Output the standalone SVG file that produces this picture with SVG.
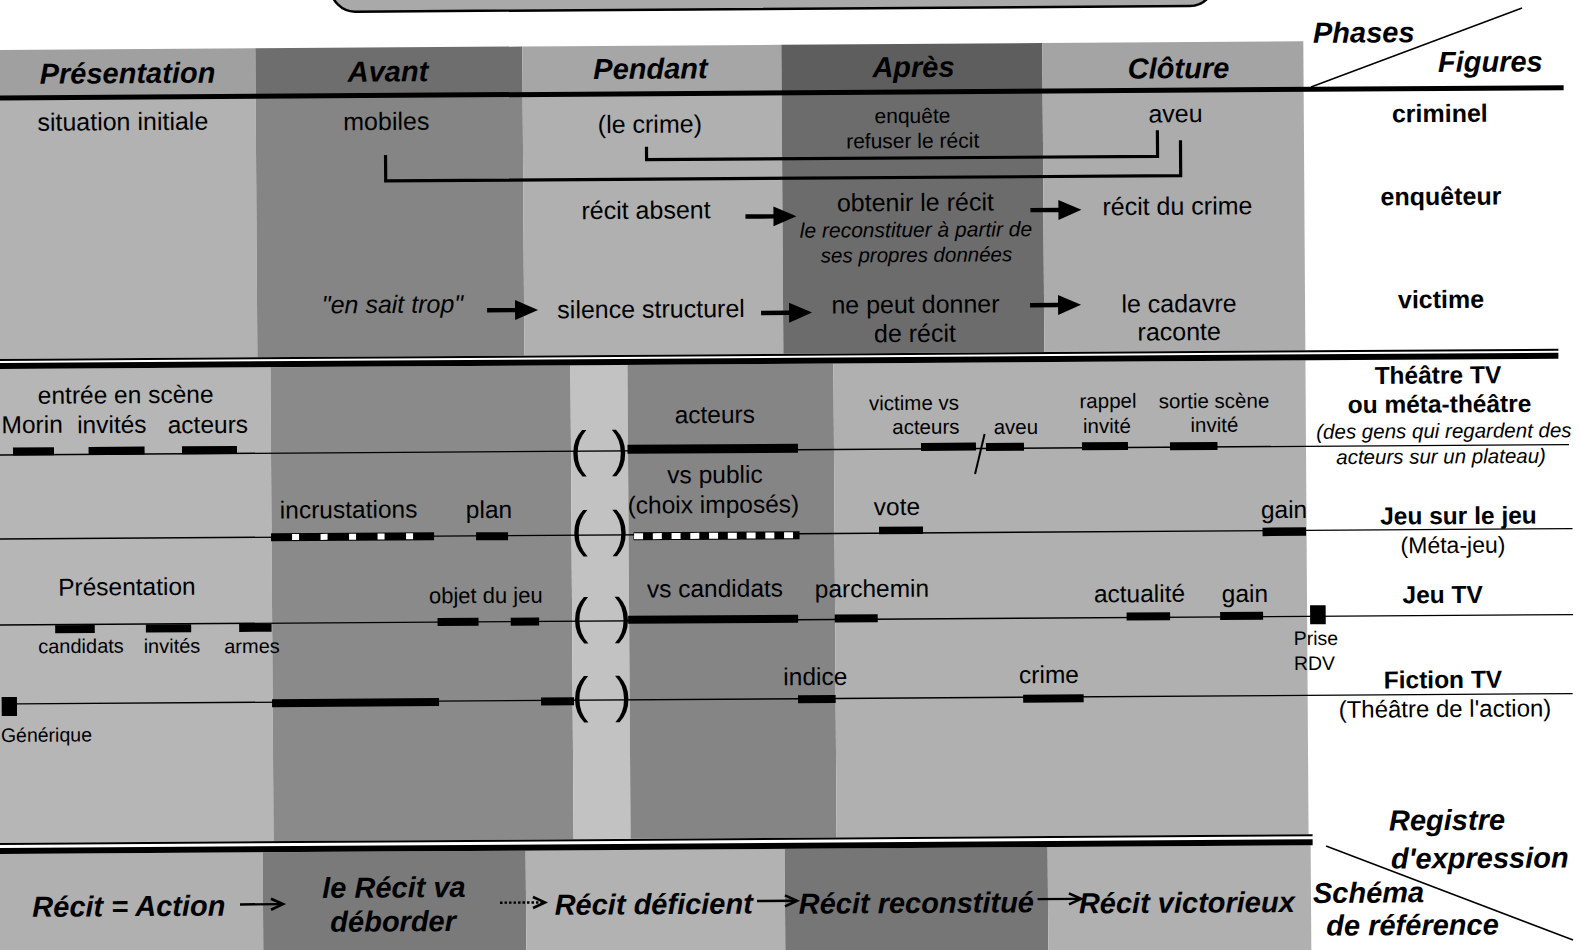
<svg xmlns="http://www.w3.org/2000/svg" width="1580" height="950" viewBox="0 0 1580 950">
<defs>
<style>
text{font-family:"Liberation Sans",Arial,Helvetica,sans-serif;fill:#000;text-anchor:middle}
.hd{font-size:29px;font-weight:bold;font-style:italic}
.st{text-anchor:start}
.n{font-size:25px}
.s{font-size:21px}
.s2{font-size:20.5px}
.it{font-style:italic}
.fg{font-size:25px;font-weight:bold}
.m{font-size:24.5px}
.ms{font-size:20.5px}
.sm{font-size:20px}
.xs{font-size:19.5px}
.rb{font-size:24.5px;font-weight:bold}
.pr{font-size:50px}
.bar{fill:#000}
.wq{fill:#fff}
.tl{stroke:#000;stroke-width:1.4;fill:none}
.br{stroke:#000;stroke-width:3.2;fill:none}
.dg{stroke:#000;stroke-width:1.5;fill:none}
.sa{stroke:#000;stroke-width:2.4;fill:none}
.ah{stroke:#000;stroke-width:2.6;fill:none;stroke-linejoin:miter}
</style>
<path id="arr" d="M0,-2.2H28V-10L51,0L28,10V2.2H0Z" fill="#000"/>
</defs>
<rect x="0" y="0" width="1580" height="950" fill="#fff"/>
<g transform="rotate(-0.38)">
<g id="backgrounds">
<rect x="331" y="-40" width="883" height="54" rx="24" fill="#a9a9a9" stroke="#000" stroke-width="2.5"/>
<rect x="-20" y="50" width="275" height="48" fill="#a0a0a0"/>
<rect x="255" y="50" width="267" height="48" fill="#6e6e6e"/>
<rect x="522" y="50" width="259" height="48" fill="#a6a6a6"/>
<rect x="781" y="50" width="261" height="48" fill="#5e5e5e"/>
<rect x="1042" y="50" width="261" height="48" fill="#a4a4a4"/>
<rect x="-20" y="98" width="275" height="261" fill="#b2b2b2"/>
<rect x="255" y="98" width="267" height="261" fill="#858585"/>
<rect x="522" y="98" width="259" height="261" fill="#b0b0b0"/>
<rect x="781" y="98" width="261" height="261" fill="#6c6c6c"/>
<rect x="1042" y="98" width="261" height="261" fill="#acacac"/>
<rect x="-20" y="369" width="288" height="474" fill="#b6b6b6"/>
<rect x="268" y="369" width="300" height="474" fill="#8a8a8a"/>
<rect x="568" y="369" width="57" height="474" fill="#c2c2c2"/>
<rect x="625" y="369" width="206" height="474" fill="#858585"/>
<rect x="831" y="369" width="472" height="474" fill="#b0b0b0"/>
<rect x="-20" y="854" width="277" height="120" fill="#b0b0b0"/>
<rect x="257" y="854" width="263" height="120" fill="#7a7a7a"/>
<rect x="520" y="854" width="259" height="120" fill="#b2b2b2"/>
<rect x="779" y="854" width="263" height="120" fill="#767676"/>
<rect x="1042" y="854" width="263" height="120" fill="#b0b0b0"/>
<rect x="-20" y="95.5" width="1583" height="5" fill="#000"/>
<rect x="-20" y="359" width="1576" height="2" fill="#000"/>
<rect x="-20" y="363" width="1576" height="6" fill="#000"/>
<rect x="-20" y="843" width="1327" height="2" fill="#000"/>
<rect x="-20" y="848" width="1327" height="6" fill="#000"/>
<line class="dg" x1="1310.4" y1="95.7" x2="1522" y2="18.1"/>
<line class="dg" x1="1320.4" y1="854.8" x2="1566.8" y2="950.4"/>
</g>
<g id="timelines">
<line class="tl" x1="-20" y1="455" x2="1566" y2="455"/>
<line class="tl" x1="-20" y1="539" x2="1569" y2="539"/>
<line class="tl" x1="-20" y1="625" x2="1569" y2="625"/>
<line class="tl" x1="12" y1="704" x2="1568" y2="704"/>
</g>
<g id="connectors">
<path class="br" d="M645.5,151V164H1156.5V138"/>
<path class="br" d="M384.5,157.5V183.5H1179.5V148"/>
<use href="#arr" x="744" y="221.5"/>
<use href="#arr" x="1029" y="217"/>
<use href="#arr" x="485" y="313.5"/>
<use href="#arr" x="759" y="318"/>
<use href="#arr" x="1028" y="312"/>
<line class="sa" x1="234" y1="906" x2="274" y2="906"/>
<path class="ah" d="M265,900.5L277,906L265,911.5"/>
<line class="sa" x1="494" y1="906" x2="536" y2="906" stroke-dasharray="2.5 2"/>
<path class="ah" d="M527,900.5L539,906L527,911.5"/>
<line class="sa" x1="751" y1="906" x2="788" y2="906"/>
<path class="ah" d="M779,900.5L791,906L779,911.5"/>
<line class="sa" x1="1031.6" y1="906" x2="1072" y2="906"/>
<path class="ah" d="M1063,900.5L1075,906L1063,911.5"/>
</g>
<g id="header">
<text class="hd" x="127" y="84">Présentation</text>
<text class="hd" x="387.5" y="84">Avant</text>
<text class="hd" x="650" y="83">Pendant</text>
<text class="hd" x="913" y="83">Après</text>
<text class="hd" x="1178" y="86">Clôture</text>
<text class="hd st" x="1312.7" y="51.5">Phases</text>
<text class="hd st" x="1437.5" y="81.5">Figures</text>
</g>
<g id="fig-criminel">
<text class="n" x="122" y="131">situation initiale</text>
<text class="n" x="385.5" y="132.5">mobiles</text>
<text class="n" x="649" y="137">(le crime)</text>
<text class="s" x="911.7" y="129">enquête</text>
<text class="s" x="911.7" y="154">refuser le récit</text>
<text class="n" x="1174.7" y="130">aveu</text>
<text class="fg" x="1439" y="131.5">criminel</text>
</g>
<g id="fig-enqueteur">
<text class="n" x="644.6" y="223">récit absent</text>
<text class="n" x="914" y="217">obtenir le récit</text>
<text class="s it" x="914.4" y="243">le reconstituer à partir de</text>
<text class="s2 it" x="914.8" y="268">ses propres données</text>
<text class="n" x="1176" y="222.5">récit du crime</text>
<text class="fg" x="1439.6" y="214.5">enquêteur</text>
</g>
<g id="fig-victime">
<text class="n it" x="390.4" y="315.5">"en sait trop"</text>
<text class="n" x="649" y="322">silence structurel</text>
<text class="n" x="913.4" y="319">ne peut donner</text>
<text class="n" x="912.7" y="348">de récit</text>
<text class="n" x="1177" y="320">le cadavre</text>
<text class="n" x="1177" y="348">raconte</text>
<text class="fg" x="1439" y="317.5">victime</text>
</g>
<g id="parens">
<text class="pr" x="575.5" y="470">(</text><text class="pr" x="617" y="470">)</text>
<text class="pr" x="576" y="550">(</text><text class="pr" x="617" y="550">)</text>
<text class="pr" x="576" y="637">(</text><text class="pr" x="618.5" y="637">)</text>
<text class="pr" x="575.5" y="716">(</text><text class="pr" x="618.5" y="716">)</text>
</g>
<g id="reg-theatre">
<text class="m" x="123" y="404">entrée en scène</text>
<text class="m" x="29.3" y="433.2">Morin</text>
<text class="m" x="109" y="433.7">invités</text>
<text class="m" x="205" y="434.4">acteurs</text>
<rect class="bar" x="10" y="447.5" width="41" height="8"/>
<rect class="bar" x="85.6" y="447.5" width="56" height="8"/>
<rect class="bar" x="179" y="447.5" width="55" height="8"/>
<text class="m" x="712" y="427.7">acteurs</text>
<rect class="bar" x="624.5" y="449" width="170.5" height="9"/>
<text class="ms" x="911.3" y="416">victime vs</text>
<text class="ms" x="923" y="440">acteurs</text>
<rect class="bar" x="918" y="449" width="55" height="8"/>
<line x1="981.7" y1="440.5" x2="971.9" y2="480.5" stroke="#000" stroke-width="2"/>
<text class="ms" x="1013" y="440.7">aveu</text>
<rect class="bar" x="983" y="449.5" width="38" height="8"/>
<text class="ms" x="1105.3" y="415.3">rappel</text>
<text class="ms" x="1104" y="440.3">invité</text>
<rect class="bar" x="1079" y="449.5" width="46" height="8"/>
<text class="ms" x="1211.3" y="416">sortie scène</text>
<text class="ms" x="1211.6" y="440">invité</text>
<rect class="bar" x="1167" y="450" width="47.5" height="8"/>
<text class="rb" x="1435.4" y="393">Théâtre TV</text>
<text class="rb" x="1436.8" y="422">ou méta-théâtre</text>
<text x="1441" y="447.5" style="font-size:20.5px;font-style:italic">(des gens qui regardent des</text>
<text x="1438" y="473" style="font-size:20.5px;font-style:italic">acteurs sur un plateau)</text>
</g>
<g id="reg-metajeu">
<text class="m" x="345.2" y="520.3">incrustations</text>
<rect class="bar" x="267.5" y="535" width="163" height="8"/>
<rect class="wq" x="288.5" y="536" width="7" height="6"/>
<rect class="wq" x="317" y="536" width="7" height="6"/>
<rect class="wq" x="345.5" y="536" width="7" height="6"/>
<rect class="wq" x="374" y="536" width="7" height="6"/>
<rect class="wq" x="402.5" y="536" width="7" height="6"/>
<text class="m" x="485.6" y="521.2">plan</text>
<rect class="bar" x="472.5" y="535.5" width="32" height="8"/>
<text class="m" x="711.8" y="487.7">vs public</text>
<text class="m" x="710" y="517.7">(choix imposés)</text>
<rect class="bar" x="630" y="536.5" width="166" height="8"/>
<rect class="wq" x="630.5" y="537.5" width="9" height="6"/>
<rect class="wq" x="649.25" y="537.5" width="9" height="6"/>
<rect class="wq" x="668" y="537.5" width="9" height="6"/>
<rect class="wq" x="686.75" y="537.5" width="9" height="6"/>
<rect class="wq" x="705.5" y="537.5" width="9" height="6"/>
<rect class="wq" x="724.25" y="537.5" width="9" height="6"/>
<rect class="wq" x="743" y="537.5" width="9" height="6"/>
<rect class="wq" x="761.75" y="537.5" width="9" height="6"/>
<rect class="wq" x="780.5" y="537.5" width="9" height="6"/>
<text class="m" x="893.6" y="521">vote</text>
<rect class="bar" x="875.5" y="532.5" width="44" height="7.5"/>
<text class="m" x="1280.6" y="526.5">gain</text>
<rect class="bar" x="1259" y="536" width="43.5" height="8.5"/>
<text class="rb" x="1455" y="533.7">Jeu sur le jeu</text>
<text x="1449.3" y="562.6" style="font-size:23px">(Méta-jeu)</text>
</g>
<g id="reg-jeutv">
<text class="m" x="123" y="596">Présentation</text>
<rect class="bar" x="51" y="625.5" width="39.6" height="8"/>
<rect class="bar" x="141.7" y="625.5" width="45.3" height="8"/>
<rect class="bar" x="235" y="625.5" width="32.4" height="8"/>
<text class="sm" x="76.7" y="653.5">candidats</text>
<text class="sm" x="167.7" y="654">invités</text>
<text class="sm" x="247.7" y="654.7">armes</text>
<text x="481.8" y="606.2" style="font-size:22px">objet du jeu</text>
<rect class="bar" x="433.4" y="621" width="41" height="8"/>
<rect class="bar" x="506.6" y="621" width="28.4" height="8"/>
<text class="m" x="711" y="601.7">vs candidats</text>
<rect class="bar" x="624" y="620" width="170" height="8"/>
<text class="m" x="868" y="602.8">parchemin</text>
<rect class="bar" x="830.6" y="620" width="43" height="8"/>
<text class="m" x="1135.5" y="609.6">actualité</text>
<rect class="bar" x="1122.5" y="620" width="43.5" height="8"/>
<text class="m" x="1241" y="610.3">gain</text>
<rect class="bar" x="1216" y="620" width="43" height="8"/>
<rect class="bar" x="1306" y="614" width="15.6" height="19"/>
<text class="xs" x="1311.7" y="653.7">Prise</text>
<text class="xs" x="1310" y="678.7">RDV</text>
<text class="rb" x="1438.7" y="612.6">Jeu TV</text>
</g>
<g id="reg-fiction">
<rect class="bar" x="-3" y="697" width="15.3" height="19"/>
<text class="xs st" x="-4" y="742">Générique</text>
<rect class="bar" x="267.4" y="701" width="167" height="8"/>
<rect class="bar" x="536.4" y="701" width="33" height="8"/>
<text class="m" x="810.8" y="690.4">indice</text>
<rect class="bar" x="793.4" y="700.5" width="37.6" height="8"/>
<text class="m" x="1044.5" y="690">crime</text>
<rect class="bar" x="1018.5" y="701.5" width="60.5" height="8"/>
<text class="rb" x="1438.4" y="697.6">Fiction TV</text>
<text x="1440.2" y="726.6" style="font-size:24px">(Théâtre de l'action)</text>
</g>
<g id="schema">
<text class="hd" x="122.8" y="917">Récit = Action</text>
<text class="hd" x="388" y="900">le Récit va</text>
<text class="hd" x="387" y="934">déborder</text>
<text class="hd" x="647.7" y="918.5">Récit déficient</text>
<text class="hd" x="910.3" y="919">Récit reconstitué</text>
<text class="hd" x="1180.8" y="920.5">Récit victorieux</text>
<text class="hd" x="1441.5" y="839.6">Registre</text>
<text class="hd" x="1474" y="877.8">d'expression</text>
<text class="hd st" x="1307" y="911.7">Schéma</text>
<text class="hd" x="1406.3" y="944.4">de référence</text>
</g>
</g>
</svg>
